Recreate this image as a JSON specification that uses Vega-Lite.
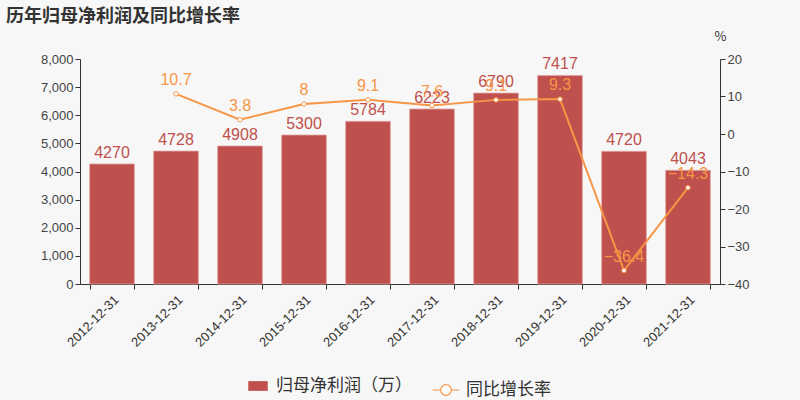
{
  "$schema": "https://vega.github.io/schema/vega-lite/v6.json",
  "width": 640,
  "height": 225,
  "autosize": {"type": "none"},
  "padding": {"left": 80, "top": 59, "right": 80, "bottom": 116},
  "background": "#f7f7f7",
  "config": {"view": {"stroke": null}, "font": "Noto Sans CJK SC"},
  "title": {"text": "历年归母净利润及同比增长率", "anchor": "start", "frame": "group", "dx": -74, "offset": 4, "fontSize": 18, "fontWeight": "bold", "color": "#333333", "font": "Noto Sans CJK SC"},
  "data": {"values": [
    {"date": "2012-12-31", "profit": 4270, "growth": null},
    {"date": "2013-12-31", "profit": 4728, "growth": 10.7},
    {"date": "2014-12-31", "profit": 4908, "growth": 3.8},
    {"date": "2015-12-31", "profit": 5300, "growth": 8},
    {"date": "2016-12-31", "profit": 5784, "growth": 9.1},
    {"date": "2017-12-31", "profit": 6223, "growth": 7.6},
    {"date": "2018-12-31", "profit": 6790, "growth": 9.1},
    {"date": "2019-12-31", "profit": 7417, "growth": 9.3},
    {"date": "2020-12-31", "profit": 4720, "growth": -36.4},
    {"date": "2021-12-31", "profit": 4043, "growth": -14.3}
  ]},
  "encoding": {
    "x": {"field": "date", "type": "nominal", "sort": null, "scale": {"paddingInner": 0.3, "paddingOuter": 0.15},
      "axis": {"title": null, "labelAngle": -45, "labelAlign": "right", "labelBaseline": "top", "labelFontSize": 13, "labelColor": "#333333", "domainColor": "#333333", "tickColor": "#333333", "tickBand": "extent", "labelPadding": 4, "labelFont": "Liberation Sans", "labelOverlap": false}}
  },
  "layer": [
    {
      "encoding": {
        "y": {"field": "profit", "type": "quantitative", "scale": {"domain": [0, 8000]},
          "axis": {"title": null, "values": [0,1000,2000,3000,4000,5000,6000,7000,8000], "tickCount": 20, "labelExpr": "format(datum.value, ',')", "labelOverlap": false, "grid": false, "labelFontSize": 13, "labelColor": "#444444", "domainColor": "#333333", "tickColor": "#333333", "labelFont": "Liberation Sans"}}
      },
      "layer": [
        {"mark": {"type": "bar", "color": "#c0504d", "stroke": "#e3a9a8", "strokeWidth": 0.8},
          "encoding": {
            "fill": {"datum": "归母净利润（万）", "type": "nominal", "scale": {"range": ["#c0504d"]},
              "legend": {"title": null, "orient": "none", "legendX": 168, "legendY": 317, "symbolType": "M-1,-0.5 L1,-0.5 L1,0.5 L-1,0.5 Z", "symbolSize": 380, "symbolStrokeWidth": 0, "labelFontSize": 17, "labelColor": "#333333", "labelOffset": 8}}
          }},
        {"mark": {"type": "text", "color": "#c0504d", "dy": -11, "fontSize": 16, "font": "Liberation Sans"},
          "encoding": {"text": {"field": "profit", "type": "quantitative", "format": "d"}}}
      ]
    },
    {
      "transform": [{"filter": "datum.growth != null"}],
      "encoding": {
        "y": {"field": "growth", "type": "quantitative", "scale": {"domain": [-40, 20]},
          "axis": {"orient": "right", "title": "%", "titleAngle": 0, "titleAnchor": "end", "titleAlign": "center", "titleBaseline": "bottom", "titleX": 0, "titleY": -16, "titleFontSize": 13, "titleFontWeight": "normal", "titleColor": "#333333", "values": [-40,-30,-20,-10,0,10,20], "tickCount": 20, "labelOverlap": false, "grid": false, "labelFontSize": 13, "labelColor": "#444444", "domainColor": "#333333", "tickColor": "#333333", "labelFont": "Liberation Sans"}}
      },
      "layer": [
        {"mark": {"type": "line", "color": "#f79646", "strokeWidth": 2, "point": {"filled": true, "fill": "white", "stroke": "#f79646", "strokeWidth": 1, "size": 20}},
          "encoding": {
            "stroke": {"datum": "同比增长率", "type": "nominal", "scale": {"range": ["#f79646"]},
              "legend": {"title": null, "orient": "none", "legendX": 352, "legendY": 317, "symbolType": "M-1,0 L-0.4,0 M0.4,0 L1,0 M0.4,0 A0.4,0.4 0 1 1 -0.4,0 A0.4,0.4 0 1 1 0.4,0", "symbolSize": 700, "symbolFillColor": "#ffffff", "symbolStrokeWidth": 1.2, "labelFontSize": 17, "labelColor": "#333333", "labelOffset": 6}}
          }},
        {"mark": {"type": "text", "color": "#f79646", "dy": -14, "fontSize": 16, "font": "Liberation Sans"},
          "encoding": {"text": {"field": "growth", "type": "quantitative"}}}
      ]
    }
  ],
  "resolve": {"scale": {"y": "independent"}}
}
